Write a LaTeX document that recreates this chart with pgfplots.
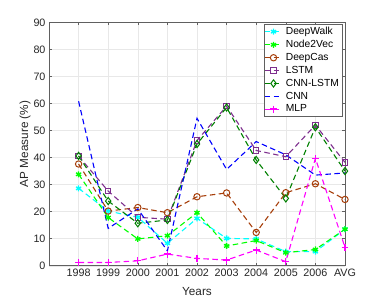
\documentclass[border=0pt]{standalone}
\usepackage{fontspec}
\setmainfont{Liberation Sans}
\usepackage{pgfplots}
\pgfplotsset{compat=1.18}
\definecolor{cDW}{RGB}{0,255,255}
\definecolor{cN2V}{RGB}{0,255,0}
\definecolor{cDC}{RGB}{166,62,10}
\definecolor{cLSTM}{RGB}{126,47,142}
\definecolor{cCL}{RGB}{0,128,0}
\definecolor{cCNN}{RGB}{0,0,255}
\definecolor{cMLP}{RGB}{255,0,255}
\definecolor{axgray}{RGB}{38,38,38}
\begin{document}
\begin{tikzpicture}
\begin{axis}[
  scale only axis,
  width=296bp, height=243.4bp,
  xmin=-1, xmax=9, ymin=0, ymax=90,
  xtick={0,...,9},
  xticklabels={1998,1999,2000,2001,2002,2003,2004,2005,2006,AVG},
  ytick={0,10,...,90},
  tick align=inside,
  major tick length=3bp,
  grid=major,
  grid style={gray!18, line width=0.4pt},
  axis line style={gray!75!black, line width=0.5pt},
  tick style={gray!75!black, line width=0.5pt},
  ticklabel style={font=\fontsize{10.8}{12}\selectfont, text=axgray},
  /pgf/number format/assume math mode=true,
  xlabel={Years}, ylabel={AP Measure (\%)},
  every axis x label/.style={at={(axis description cs:0.5,0)}, anchor=center, yshift=-26.3bp,
     font=\fontsize{11.8}{13}\selectfont, text=axgray},
  every axis y label/.style={at={(axis description cs:0,0.5)}, rotate=90, anchor=center, yshift=24bp,
     font=\fontsize{11.8}{13}\selectfont, text=axgray},
  every axis plot/.append style={line width=1.1pt, dash pattern=on 5.5bp off 3.5bp},
  legend style={at={(0.99,0.993)}, anchor=north east,
    draw=gray!75!black, fill=white, row sep=1.2pt, inner xsep=0pt, inner ysep=1.5pt,
    nodes={font=\fontsize{10.3}{12}\selectfont, text=black, inner xsep=3pt, inner ysep=1.5pt}},
  legend cell align=left,
  legend image code/.code={
    \draw[mark repeat=2, mark phase=2, #1] plot coordinates {(0cm,0cm) (0.31cm,0cm) (0.62cm,0cm)};
  },
]
\addplot[cDW, mark=asterisk, mark size=3pt, mark options={solid, line width=1.3pt}] coordinates {
(0,28.6) (1,20.2) (2,17.9) (3,8.3) (4,17.5) (5,10.1) (6,9.9) (7,5.2) (8,5.2) (9,13.5)};
\addlegendentry{DeepWalk}
\addplot[cN2V, mark=asterisk, mark size=3pt, mark options={solid, line width=1.3pt}] coordinates {
(0,33.8) (1,17.8) (2,9.9) (3,11.1) (4,19.6) (5,7.3) (6,9.3) (7,4.8) (8,6.0) (9,13.5)};
\addlegendentry{Node2Vec}
\addplot[cDC, mark=o, mark size=3.2pt, mark options={solid, line width=1pt}] coordinates {
(0,37.6) (1,20.2) (2,21.5) (3,19.6) (4,25.5) (5,26.9) (6,12.3) (7,27.0) (8,30.3) (9,24.5)};
\addlegendentry{DeepCas}
\addplot[cLSTM, mark=square, mark size=2.8pt, mark options={solid, line width=1pt}] coordinates {
(0,40.5) (1,27.6) (2,17.9) (3,17.2) (4,46.3) (5,59.0) (6,42.6) (7,40.3) (8,52.0) (9,38.2)};
\addlegendentry{LSTM}
\addplot[cCL, mark=diamond, mark size=3.6pt, mark options={solid, line width=1pt}] coordinates {
(0,40.6) (1,23.9) (2,15.7) (3,16.9) (4,45.0) (5,58.5) (6,39.1) (7,24.9) (8,51.2) (9,35.0)};
\addlegendentry{CNN-LSTM}
\addplot[cCNN, no markers] coordinates {
(0,60.8) (1,13.8) (2,21.0) (3,5.5) (4,54.5) (5,35.6) (6,45.9) (7,41.0) (8,33.5) (9,34.3)};
\addlegendentry{CNN}
\addplot[cMLP, mark=+, mark size=3.5pt, mark options={solid, line width=1.2pt}] coordinates {
(0,1.2) (1,1.2) (2,1.8) (3,4.3) (4,2.7) (5,2.1) (6,5.8) (7,1.5) (8,39.7) (9,6.8)};
\addlegendentry{MLP}
\end{axis}
\path ([shift={(-49bp,-33.3bp)}]current axis.south west) rectangle ([shift={(37bp,22.3bp)}]current axis.north east);
\end{tikzpicture}
\end{document}
